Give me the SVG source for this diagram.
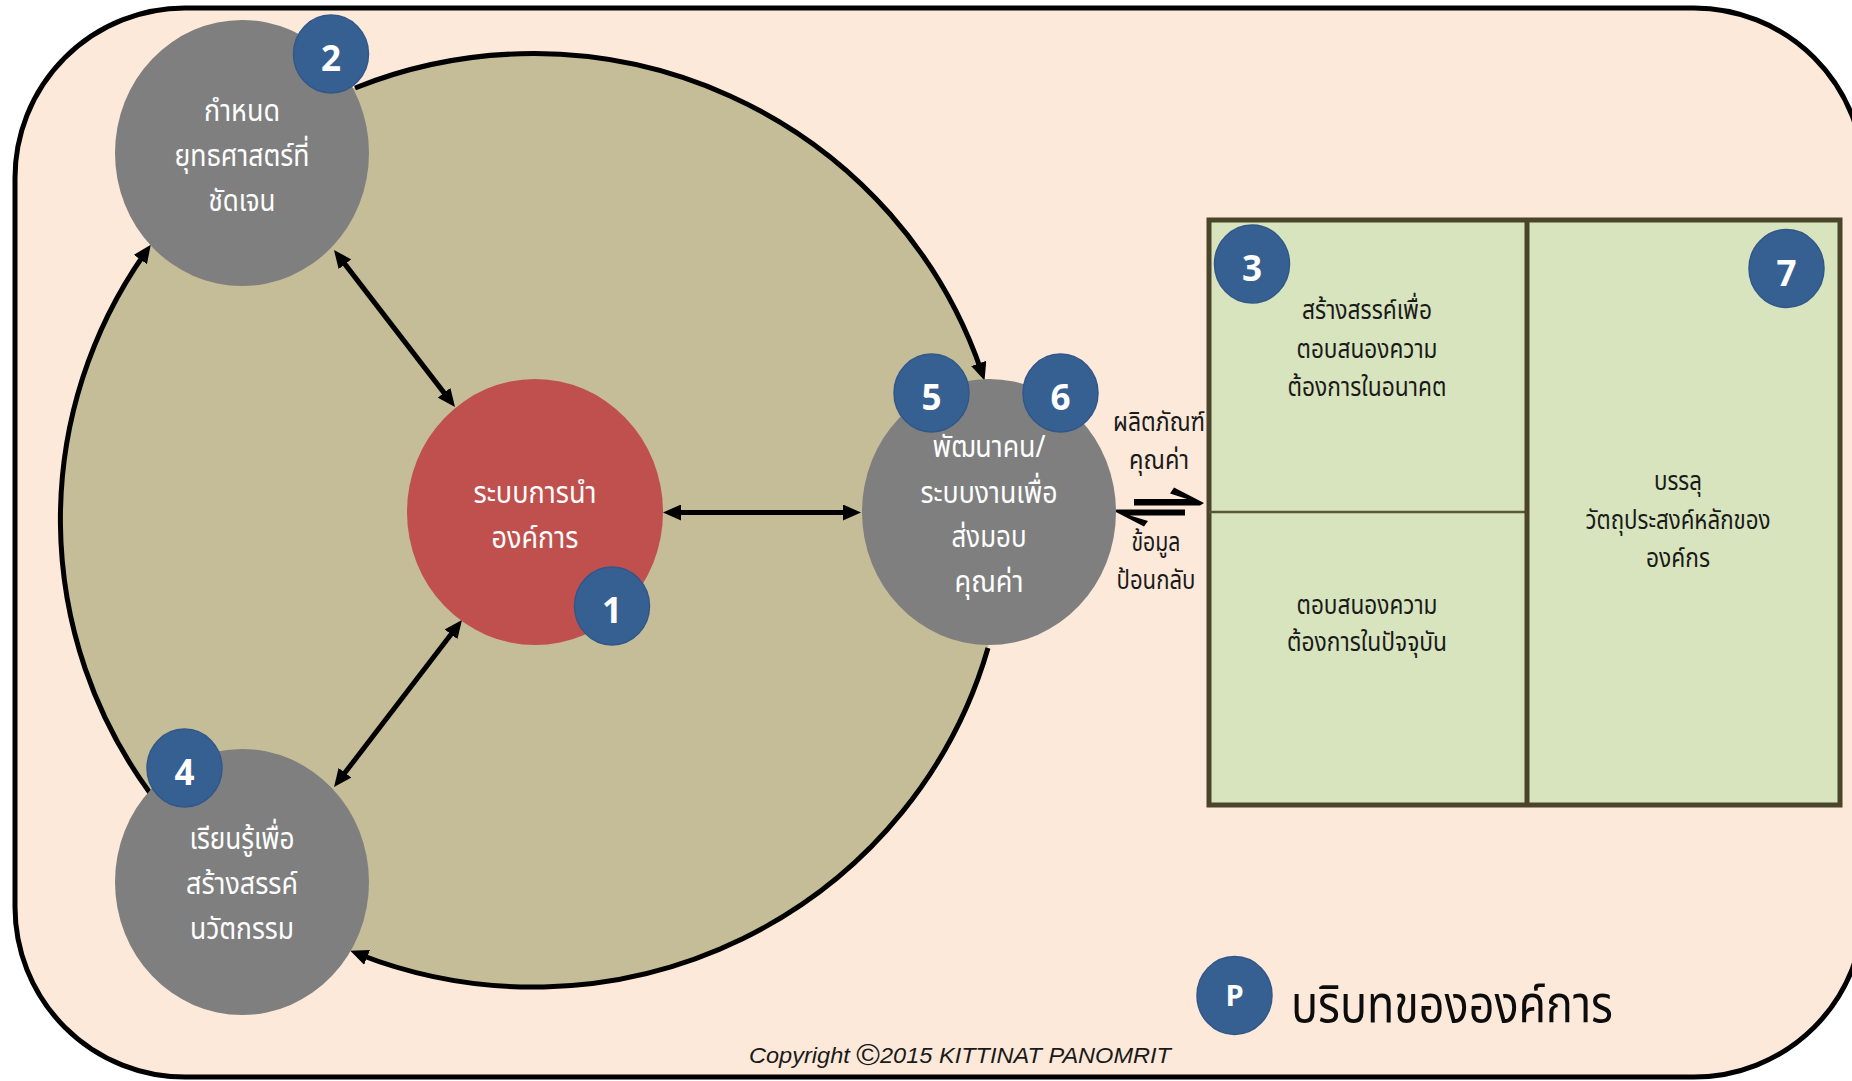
<svg xmlns="http://www.w3.org/2000/svg" width="1852" height="1081" viewBox="0 0 1852 1081">
  <defs>
    <marker id="ah" viewBox="0 0 18 16" refX="8" refY="8" markerWidth="18" markerHeight="16" markerUnits="userSpaceOnUse" orient="auto-start-reverse">
      <path d="M0,0 L18,8 L0,16 z" fill="#000"/>
    </marker>
  </defs>
  <style>
    .th { font-family: "Noto Sans Thai", "Noto Sans Thai UI", "Noto Sans", "DejaVu Sans", sans-serif; text-anchor: middle; }
    .nodetxt { font-size: 30px; fill: #ffffff; }
    .boxtxt { font-size: 26px; fill: #1a1a1a; }
    .lbl { font-size: 26px; fill: #1a1a1a; }
    .node ellipse { stroke: none; }
    .badge ellipse { fill: #376092; stroke: #31578a; stroke-width: 1.5; }
    .badge text { font-family: "Open Sans", "Noto Sans", sans-serif; font-weight: 700; font-size: 35px; fill: #ffffff; text-anchor: middle; }
    .conn { fill: none; stroke: #000; stroke-width: 5; }
    .harpoon { fill: #000; stroke: none; }
  </style>

  <!-- page and context frame -->
  <rect x="0" y="0" width="1852" height="1081" fill="#ffffff"/>
  <rect x="15" y="8" width="1849" height="1069" rx="170" ry="170" fill="#FDE9D9" stroke="#000" stroke-width="5"/>

  <!-- organisational system body -->
  <ellipse cx="533" cy="520" rx="473" ry="467" fill="#C4BD97"/>

  <!-- connectors -->
  <g id="connectors">
    <path class="conn" d="M355,88 A473,467 0 0 1 981.3,371" marker-end="url(#ah)"/>
    <path class="conn" d="M150,793 A473,467 0 0 1 145,253" marker-end="url(#ah)"/>
    <path class="conn" d="M988,648 A473,467 0 0 1 359.6,954.5" marker-end="url(#ah)"/>
    <path class="conn" d="M340.1,257.9 L448.9,399.1" marker-start="url(#ah)" marker-end="url(#ah)"/>
    <path class="conn" d="M340.1,779.1 L455.9,627.9" marker-start="url(#ah)" marker-end="url(#ah)"/>
    <path class="conn" d="M673,512.5 L851,512.5" marker-start="url(#ah)" marker-end="url(#ah)"/>
    <!-- exchange harpoons: products out, feedback in -->
    <polygon class="harpoon" points="1134,499 1187,499 1170,493.5 1174,487.5 1204,503 1200,505.5 1134,505.5"/>
    <polygon class="harpoon" points="1185,509.5 1185,515.5 1130,515.5 1148,521 1144,526.5 1113,510.5 1117,509.5"/>
  </g>

  <!-- leadership system -->
  <g id="node-1" class="node">
    <ellipse cx="535" cy="512" rx="128" ry="133" fill="#C0504D"/>
    <text class="th nodetxt" x="535" y="503" textLength="123" lengthAdjust="spacingAndGlyphs">ระบบการนำ</text>
    <text class="th nodetxt" x="535" y="548" textLength="87" lengthAdjust="spacingAndGlyphs">องค์การ</text>
  </g>

  <!-- strategy -->
  <g id="node-2" class="node">
    <ellipse cx="242" cy="153" rx="127" ry="133" fill="#7F7F7F"/>
    <text class="th nodetxt" x="242" y="121" textLength="76" lengthAdjust="spacingAndGlyphs">กำหนด</text>
    <text class="th nodetxt" x="242" y="166" textLength="135" lengthAdjust="spacingAndGlyphs">ยุทธศาสตร์ที่</text>
    <text class="th nodetxt" x="242" y="211" textLength="67" lengthAdjust="spacingAndGlyphs">ชัดเจน</text>
  </g>

  <!-- learning and innovation -->
  <g id="node-4" class="node">
    <ellipse cx="242" cy="882" rx="127" ry="133" fill="#7F7F7F"/>
    <text class="th nodetxt" x="242" y="849" textLength="105" lengthAdjust="spacingAndGlyphs">เรียนรู้เพื่อ</text>
    <text class="th nodetxt" x="242" y="894" textLength="112" lengthAdjust="spacingAndGlyphs">สร้างสรรค์</text>
    <text class="th nodetxt" x="242" y="939" textLength="104" lengthAdjust="spacingAndGlyphs">นวัตกรรม</text>
  </g>

  <!-- workforce and operations -->
  <g id="node-5" class="node">
    <ellipse cx="989" cy="512" rx="127" ry="133" fill="#7F7F7F"/>
    <text class="th nodetxt" x="989" y="457" textLength="113" lengthAdjust="spacingAndGlyphs">พัฒนาคน/</text>
    <text class="th nodetxt" x="989" y="503" textLength="137" lengthAdjust="spacingAndGlyphs">ระบบงานเพื่อ</text>
    <text class="th nodetxt" x="989" y="547" textLength="75" lengthAdjust="spacingAndGlyphs">ส่งมอบ</text>
    <text class="th nodetxt" x="989" y="592" textLength="69" lengthAdjust="spacingAndGlyphs">คุณค่า</text>
  </g>

  <!-- exchange labels -->
  <g id="exchange-labels">
    <text class="th lbl" x="1159" y="431" textLength="92" lengthAdjust="spacingAndGlyphs">ผลิตภัณฑ์</text>
    <text class="th lbl" x="1159" y="469" textLength="60" lengthAdjust="spacingAndGlyphs">คุณค่า</text>
    <text class="th lbl" x="1156" y="551" textLength="49" lengthAdjust="spacingAndGlyphs">ข้อมูล</text>
    <text class="th lbl" x="1156" y="589" textLength="79" lengthAdjust="spacingAndGlyphs">ป้อนกลับ</text>
  </g>

  <!-- customers and results -->
  <g id="results-box">
    <rect x="1209" y="220" width="631" height="585" fill="#D7E4BD" stroke="#4A452A" stroke-width="5"/>
    <line x1="1209" y1="512" x2="1527" y2="512" stroke="#5B5636" stroke-width="2.5"/>
    <line x1="1527" y1="220" x2="1527" y2="805" stroke="#4A452A" stroke-width="5"/>
    <text class="th boxtxt" x="1367" y="319" textLength="130" lengthAdjust="spacingAndGlyphs">สร้างสรรค์เพื่อ</text>
    <text class="th boxtxt" x="1367" y="358" textLength="141" lengthAdjust="spacingAndGlyphs">ตอบสนองความ</text>
    <text class="th boxtxt" x="1367" y="396" textLength="159" lengthAdjust="spacingAndGlyphs">ต้องการในอนาคต</text>
    <text class="th boxtxt" x="1367" y="614" textLength="141" lengthAdjust="spacingAndGlyphs">ตอบสนองความ</text>
    <text class="th boxtxt" x="1367" y="651" textLength="160" lengthAdjust="spacingAndGlyphs">ต้องการในปัจจุบัน</text>
    <text class="th boxtxt" x="1678" y="490" textLength="48" lengthAdjust="spacingAndGlyphs">บรรลุ</text>
    <text class="th boxtxt" x="1678" y="529" textLength="185" lengthAdjust="spacingAndGlyphs">วัตถุประสงค์หลักของ</text>
    <text class="th boxtxt" x="1678" y="567" textLength="64" lengthAdjust="spacingAndGlyphs">องค์กร</text>
  </g>

  <!-- numbered badges -->
  <g id="badge-1" class="badge"><ellipse cx="612" cy="606" rx="37.5" ry="39"/><text x="612" y="623">1</text></g>
  <g id="badge-2" class="badge"><ellipse cx="331" cy="54" rx="37.5" ry="39"/><text x="331" y="71">2</text></g>
  <g id="badge-3" class="badge"><ellipse cx="1252" cy="264" rx="37.5" ry="39"/><text x="1252" y="281">3</text></g>
  <g id="badge-4" class="badge"><ellipse cx="184.5" cy="768" rx="37.5" ry="39"/><text x="184.5" y="785">4</text></g>
  <g id="badge-5" class="badge"><ellipse cx="931.5" cy="393" rx="37.5" ry="39"/><text x="931.5" y="410">5</text></g>
  <g id="badge-6" class="badge"><ellipse cx="1060.5" cy="393" rx="37.5" ry="39"/><text x="1060.5" y="410">6</text></g>
  <g id="badge-7" class="badge"><ellipse cx="1786.5" cy="268.5" rx="37.5" ry="39"/><text x="1786.5" y="285.5">7</text></g>

  <!-- context legend -->
  <g id="legend-p">
    <g class="badge"><ellipse cx="1234.5" cy="995.5" rx="37.5" ry="39"/><text x="1234.5" y="1006" style="font-size:29px">P</text></g>
    <text class="th" x="1452" y="1022" font-size="52" fill="#0d0d0d" textLength="322" lengthAdjust="spacingAndGlyphs">บริบทขององค์การ</text>
  </g>

  <text x="749" y="1063" font-family="'Liberation Sans', Arial, sans-serif" font-style="italic" font-size="22" fill="#1a1a1a" textLength="422" lengthAdjust="spacingAndGlyphs">Copyright <tspan font-size="30" font-style="normal" dy="2">©</tspan><tspan dy="-2">2015 KITTINAT PANOMRIT</tspan></text>
</svg>
